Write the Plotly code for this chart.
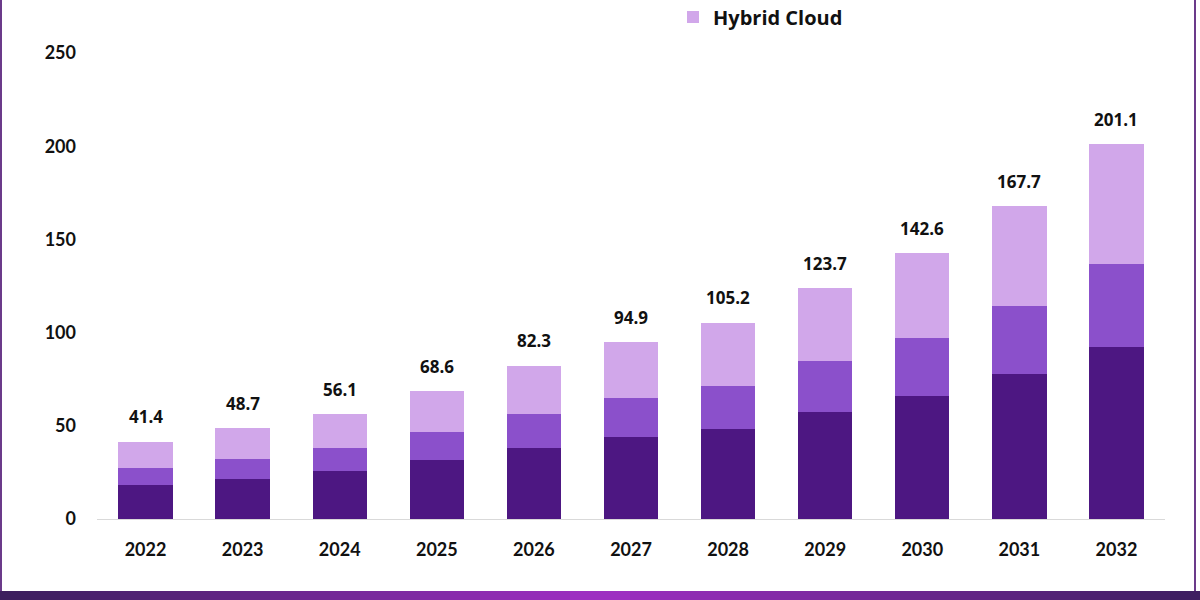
import plotly.graph_objects as go

years = ["2022", "2023", "2024", "2025", "2026", "2027", "2028", "2029", "2030", "2031", "2032"]
totals = [41.4, 48.7, 56.1, 68.6, 82.3, 94.9, 105.2, 123.7, 142.6, 167.7, 201.1]
public_cloud = [18.4, 21.6, 25.7, 31.6, 38.0, 43.9, 48.2, 57.3, 65.9, 77.7, 92.3]
private_cloud = [9.1, 10.6, 12.3, 15.0, 18.3, 20.9, 23.1, 27.4, 31.1, 36.4, 44.3]
hybrid_cloud = [round(t - a - b, 1) for t, a, b in zip(totals, public_cloud, private_cloud)]
y_ticks = [0, 50, 100, 150, 200, 250]

c_dark = "#4d1782"
c_mid = "#8b50cb"
c_light = "#d1a7ea"

fig = go.Figure()
fig.add_trace(go.Bar(x=years, y=public_cloud, name="Public Cloud", marker_color=c_dark,
                     marker_line_width=0, showlegend=False))
fig.add_trace(go.Bar(x=years, y=private_cloud, name="Private Cloud", marker_color=c_mid,
                     marker_line_width=0, showlegend=False))
fig.add_trace(go.Bar(x=years, y=hybrid_cloud, name="Hybrid Cloud", marker_color=c_light,
                     marker_line_width=0, showlegend=True))

# total labels (x given as category index so the year strings are not read as numbers)
for i, t in enumerate(totals):
    fig.add_annotation(x=i, y=t, xref="x", yref="y", text=f"{t}", showarrow=False,
                       yanchor="middle", yshift=25,
                       font=dict(family="Open Sans", size=17, color="#111111", weight="bold"))

# decorative frame (pixel-based, via paper coords)
W, H = 1200, 600
L, R, T, B = 97, 35, 53, 81
pw, ph = W - L - R, H - T - B

def px_x(p):
    return (p - L) / pw

def px_y(p):
    return (H - B - p) / ph

frame = []
frame.append(dict(type="rect", xref="paper", yref="paper", x0=px_x(0), x1=px_x(2),
                  y0=px_y(600), y1=px_y(0), fillcolor="#6b3a8a", line=dict(width=0), layer="above"))
frame.append(dict(type="rect", xref="paper", yref="paper", x0=px_x(1194), x1=px_x(1196),
                  y0=px_y(600), y1=px_y(0), fillcolor="#6b3a8a", line=dict(width=0), layer="above"))
n = 40

def lerp(a, b, t):
    return tuple(int(a[i] + (b[i] - a[i]) * t) for i in range(3))

left_c = (58, 30, 92)
mid_c = (160, 48, 196)
right_c = (60, 30, 95)
for i in range(n):
    t = (i + 0.5) / n
    col = lerp(left_c, mid_c, t / 0.5) if t < 0.5 else lerp(mid_c, right_c, (t - 0.5) / 0.5)
    x0 = i * W / n
    x1 = (i + 1) * W / n + 1
    frame.append(dict(type="rect", xref="paper", yref="paper",
                      x0=px_x(x0), x1=px_x(x1), y0=px_y(600), y1=px_y(591),
                      fillcolor="rgb(%d,%d,%d)" % col, line=dict(width=0), layer="above"))

fig.update_layout(
    width=W, height=H,
    barmode="stack", bargap=0.44,
    plot_bgcolor="white", paper_bgcolor="white",
    margin=dict(l=L, r=R, t=T, b=B, autoexpand=False),
    shapes=frame,
    font=dict(family="Lato", color="#111111"),
    legend=dict(orientation="h", xref="container", yref="container",
                x=673 / W, xanchor="left", y=1 - 17 / H, yanchor="middle",
                font=dict(family="Open Sans", size=20, color="#111111", weight="bold"),
                bgcolor="rgba(0,0,0,0)", tracegroupgap=0),
    xaxis=dict(type="category", range=[-0.5, len(years) - 0.5], showline=True,
               linecolor="#d9d9d9", linewidth=1, showgrid=False,
               ticks="", automargin=False,
               tickfont=dict(family="Lato", size=18, color="#111111", weight="bold"),
               ticklabelstandoff=14, fixedrange=True),
    yaxis=dict(range=[0, 250], tickvals=y_ticks, showgrid=False, zeroline=False, showline=False,
               ticks="", automargin=False,
               tickfont=dict(family="Lato", size=18, color="#111111", weight="bold"),
               ticklabelstandoff=20, fixedrange=True),
)
fig.update_traces(cliponaxis=False)

fig.write_html("out.html", config={"displayModeBar": False},
               post_script="document.body.style.margin='0';")
